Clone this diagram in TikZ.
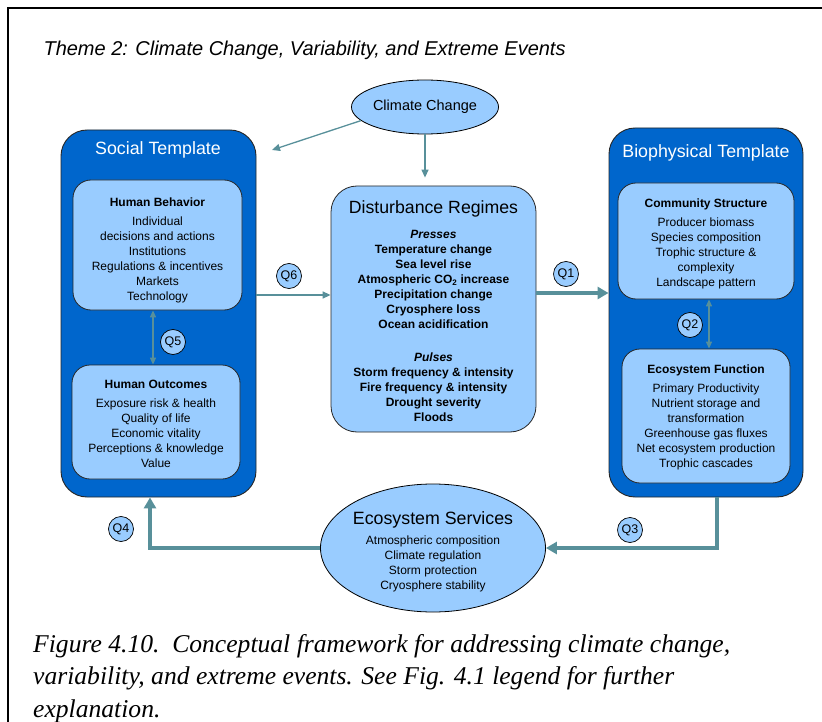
\documentclass[tikz,border=0pt]{standalone}
\usepackage{fontspec}
\setmainfont{Liberation Sans}
\newfontfamily\capfont{Liberation Serif}
\usetikzlibrary{shapes.geometric,arrows.meta,positioning}

\definecolor{tmplblue}{RGB}{0,102,204}
\definecolor{boxblue}{RGB}{153,204,255}
\definecolor{linkteal}{RGB}{88,144,154}

\tikzset{
  template/.style={draw=black!85, fill=tmplblue, rounded corners=26pt, line width=0.9pt},
  tmpltitle/.style={text=white, font=\fontsize{17.8}{21}\selectfont},
  inbox/.style={draw=black!85, fill=boxblue, rounded corners=18pt, line width=0.8pt},
  boxtext/.style={align=center, inner sep=0pt, font=\fontsize{12}{15}\selectfont},
  oval/.style={ellipse, draw=black, fill=boxblue, line width=0.8pt, inner sep=0pt},
  qlabel/.style={circle, draw=black, fill=boxblue, line width=0.7pt, inner sep=0pt,
    minimum size=25pt, font=\fontsize{12.5}{14}\selectfont},
  thin link/.style={draw=linkteal, line width=1.3pt, -{Triangle[length=8pt,width=7pt]}},
  pair link/.style={draw=linkteal, line width=1.3pt, {Triangle[length=7pt,width=6pt]}-{Triangle[length=7pt,width=6pt]}},
  thick link/.style={draw=linkteal, line width=3.8pt, -{Triangle[length=11pt,width=12pt]}},
}

\begin{document}
\begin{tikzpicture}[x=1pt,y=-1pt]
\useasboundingbox (0,0) rectangle (822,722);
% frame
\draw[line width=2.6pt] (8,722) -- (8,8) -- (822,8);

\node[anchor=west, font=\fontsize{20}{24}\selectfont\itshape] (theme) at (40,50)
  {Theme 2: Climate Change, Variability, and Extreme Events};

% the two templates
\node[template, minimum width=195pt, minimum height=367pt] (social) at (158.5,313.5) {};
\node[tmpltitle] (socialtitle) at (158,150) {Social Template};
\node[template, minimum width=194pt, minimum height=369pt] (bio) at (706,312.5) {};
\node[tmpltitle] (biotitle) at (706,153) {Biophysical Template};

% inner boxes
\node[inbox, minimum width=169pt, minimum height=130pt] (behav) at (157.5,245) {};
\node[boxtext] (behavtext) at (157.5,250)
  {\textbf{Human Behavior}\\[4pt]Individual\\decisions and actions\\Institutions\\
   Regulations \& incentives\\Markets\\Technology};
\node[inbox, minimum width=168pt, minimum height=114pt] (outcome) at (156,422) {};
\node[boxtext] (outcometext) at (156,423.5)
  {\textbf{Human Outcomes}\\[4pt]Exposure risk \& health\\Quality of life\\
   Economic vitality\\Perceptions \& knowledge\\Value};
\node[inbox, minimum width=176pt, minimum height=116pt] (commun) at (706,241) {};
\node[boxtext] (communtext) at (706,243.5)
  {\textbf{Community Structure}\\[4pt]Producer biomass\\Species composition\\
   Trophic structure \&\\complexity\\Landscape pattern};
\node[inbox, minimum width=168pt, minimum height=134pt] (funct) at (706,416) {};
\node[boxtext] (functtext) at (706,417.5)
  {\textbf{Ecosystem Function}\\[4pt]Primary Productivity\\Nutrient storage and\\
   transformation\\Greenhouse gas fluxes\\Net ecosystem production\\Trophic cascades};

% disturbance regimes
\node[inbox, rounded corners=26pt, minimum width=205pt, minimum height=246pt] (dist) at (433.5,309) {};
\node[boxtext, font=\fontsize{12}{15}\selectfont\bfseries] (disttext) at (433.5,311)
  {{\mdseries\fontsize{17.7}{20}\selectfont Disturbance Regimes}\\[10pt]
   \textit{Presses}\\Temperature change\\Sea level rise\\
   Atmospheric CO\textsubscript{2} increase\\Precipitation change\\
   Cryosphere loss\\Ocean acidification\\[18pt]
   \textit{Pulses}\\Storm frequency \& intensity\\Fire frequency \& intensity\\
   Drought severity\\Floods};

% ellipses
\node[oval, minimum width=134pt, minimum height=54pt, font=\fontsize{14.5}{17}\selectfont]
  (climate) at (425,107) {Climate Change};
\node[oval, minimum width=225pt, minimum height=128pt] (services) at (433,548) {};
\node[boxtext] (servicestext) at (433,552)
  {{\fontsize{17.8}{20}\selectfont Ecosystem Services}\\[5pt]Atmospheric composition\\
   Climate regulation\\Storm protection\\Cryosphere stability};

% helper coordinates
\coordinate (socialtip) at (272,150);
\coordinate (rowq6) at (0,295);
\coordinate (rowq1) at (0,293);
\coordinate (colq5) at (153,0);
\coordinate (colq2) at (709,0);
\coordinate (colq3) at (717,0);
\coordinate (colq4) at (150,0);

% connectors
\draw[thin link] (climate.192) -- (socialtip);
\draw[thin link, shorten >=8pt] (climate.south) -- (climate.south |- dist.north);
\draw[thin link] (social.east |- rowq6) -- (dist.west |- rowq6);
\draw[thick link] (dist.east |- rowq1) -- (bio.west |- rowq1);
\draw[pair link] (behav.south -| colq5) -- (outcome.north -| colq5);
\draw[pair link] (commun.south -| colq2) -- (funct.north -| colq2);
\draw[thick link] (bio.south -| colq3) |- (services.east);
\draw[thick link] (services.west) -| (social.south -| colq4);

% question labels
\node[qlabel] (q1) at (566,274) {Q1};
\node[qlabel] (q2) at (690,325) {Q2};
\node[qlabel] (q3) at (630,530) {Q3};
\node[qlabel] (q4) at (121,529) {Q4};
\node[qlabel] (q5) at (173,342) {Q5};
\node[qlabel] (q6) at (289,276) {Q6};

% caption
\node[anchor=north west, align=left, inner sep=0pt,
  font=\capfont\itshape\fontsize{25.6}{32.5}\selectfont] (caption) at (33,634)
  {Figure 4.10.\ \ Conceptual framework for addressing climate change,\\
   variability, and extreme events. See Fig. 4.1 legend for further\\
   explanation.};
\end{tikzpicture}
\end{document}
